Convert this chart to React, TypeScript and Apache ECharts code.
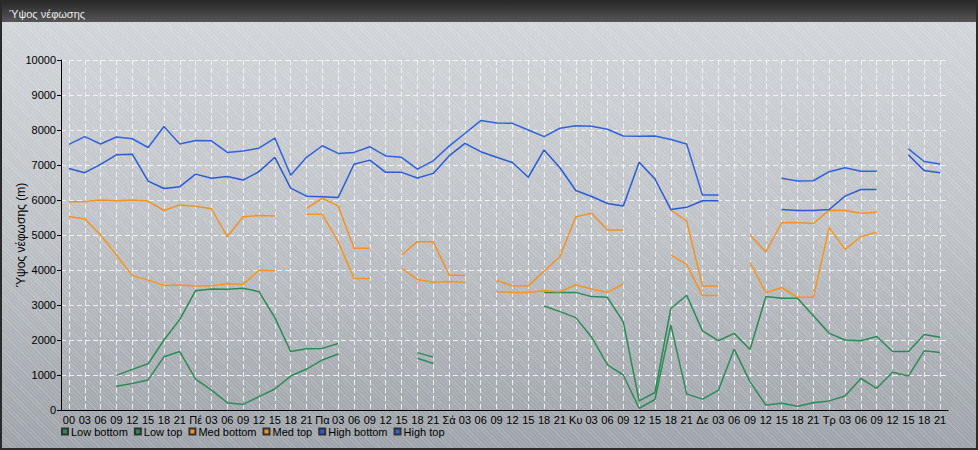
import React, { useEffect, useRef } from "react";
import * as echarts from "echarts";

const categories = [
  "00","03","06","09","12","15","18","21",
  "Πέ","03","06","09","12","15","18","21",
  "Πα","03","06","09","12","15","18","21",
  "Σά","03","06","09","12","15","18","21",
  "Κυ","03","06","09","12","15","18","21",
  "Δε","03","06","09","12","15","18","21",
  "Τρ","03","06","09","12","15","18","21",
];

const yTicks = [0, 1000, 2000, 3000, 4000, 5000, 6000, 7000, 8000, 9000, 10000];

const lowBottom = [
  null, null, null, 680, 760, 860, 1520, 1670, 880, 570, 210, 160, 380, 600,
  970, 1170, 1430, 1600, null, null, null, null, 1480, 1330, null, null, null, null,
  null, null, 2970, 2810, 2640, 2080, 1290, 1000, 50, 300, 2430, 460, 310, 560,
  1740, 810, 140, 190, 110, 210, 260, 400, 900, 620, 1080, 970, 1690, 1640,
];

const lowTop = [
  null, null, null, 990, 1160, 1320, 2000, 2590, 3410, 3460, 3450, 3480, 3380, 2640,
  1670, 1750, 1760, 1900, null, null, null, null, 1640, 1510, null, null, null, null,
  null, null, 3360, 3360, 3360, 3240, 3220, 2520, 260, 500, 2900, 3280, 2260, 1980,
  2190, 1730, 3240, 3190, 3190, 2690, 2190, 2000, 1980, 2100, 1670, 1670, 2160, 2080,
];

const medBottom = [
  5530, 5460, 5000, 4430, 3840, 3710, 3560, 3570, 3540, 3550, 3610, 3590, 3990, 3980,
  null, 5590, 5590, 4810, 3760, 3760, null, 4050, 3730, 3650, 3670, 3640, null, 3380,
  3360, 3360, 3410, 3380, 3570, 3460, 3360, 3600, null, null, 4430, 4160, 3270, 3270,
  null, 4220, 3350, 3500, 3220, 3220, 5210, 4590, 4950, 5080, null, null, null, null,
];

const medTop = [
  5950, 5960, 6000, 5980, 6000, 5970, 5700, 5860, 5820, 5750, 4950, 5520, 5560, 5540,
  null, 5760, 6050, 5830, 4620, 4620, null, 4430, 4810, 4810, 3860, 3840, null, 3700,
  3550, 3540, 3970, 4380, 5520, 5620, 5140, 5140, null, null, 5710, 5400, 3540, 3540,
  null, 5000, 4520, 5350, 5360, 5330, 5710, 5700, 5620, 5650, null, null, null, null,
];

const highBottom = [
  6900, 6780, 7020, 7290, 7310, 6540, 6330, 6380, 6740, 6620, 6670, 6570, 6810, 7220,
  6340, 6110, 6090, 6070, 7020, 7140, 6790, 6790, 6630, 6760, 7260, 7620, 7380, 7220,
  7070, 6650, 7430, 6920, 6270, 6100, 5900, 5830, 7080, 6600, 5730, 5790, 5980, 5980,
  null, null, null, 5730, 5700, 5700, 5730, 6110, 6300, 6300, null, 7290, 6840, 6780,
];

const highTop = [
  7590, 7810, 7600, 7800, 7750, 7500, 8100, 7600, 7700, 7690, 7360, 7400, 7480, 7770,
  6710, 7220, 7550, 7330, 7360, 7520, 7260, 7220, 6880, 7120, 7540, 7900, 8270, 8200,
  8190, 8000, 7810, 8050, 8120, 8110, 8020, 7830, 7820, 7830, 7730, 7600, 6140, 6140,
  null, null, null, 6620, 6540, 6550, 6810, 6920, 6820, 6820, null, 7460, 7100, 7030,
];

const seriesNames = ["Low bottom", "Low top", "Med bottom", "Med top", "High bottom", "High top"];
const seriesData = [lowBottom, lowTop, medBottom, medTop, highBottom, highTop];
const seriesColors = ["#2e8b57", "#2a8a55", "#f7941d", "#f39223", "#2a5bd7", "#2f62dd"];

const FONT = "'Liberation Sans', Arial, sans-serif";
const GRID_LINE = { color: "rgba(245,245,245,0.9)", type: [5, 3], width: 1 };

export default function App() {
  const ref = useRef<HTMLDivElement>(null);

  useEffect(() => {
    if (!ref.current) return;
    const chart = echarts.init(ref.current, undefined, { renderer: "svg" });
    const yMin = yTicks[0];
    const yMax = yTicks[yTicks.length - 1];
    const step = yTicks[1] - yTicks[0];
    const plotLeft = 61;
    const plotRight = 30;
    const half = (978 - plotLeft - plotRight) / categories.length / 2;

    chart.setOption({
      animation: false,
      backgroundColor: "transparent",
      textStyle: { fontFamily: FONT },
      title: {
        text: "Ύψος νέφωσης",
        left: 4,
        top: 3,
        z: 10,
        textStyle: { color: "#ececec", fontSize: 11, fontWeight: "normal", fontFamily: FONT },
      },
      graphic: [
        {
          type: "rect",
          z: 0,
          silent: true,
          shape: { x: 0, y: 0, width: 978, height: 22 },
          style: {
            fill: new echarts.graphic.LinearGradient(0, 0, 0, 1, [
              { offset: 0, color: "#262626" },
              { offset: 1, color: "#565656" },
            ]),
          },
        },
        {
          type: "rect",
          z: 0,
          silent: true,
          shape: { x: 1, y: 1, width: 976, height: 448 },
          style: { fill: "none", stroke: "#2a2a2a", lineWidth: 2 },
        },
      ],
      legend: {
        data: seriesNames,
        left: 56,
        top: 421,
        icon: "rect",
        itemWidth: 6,
        itemHeight: 6,
        itemGap: 6,
        textStyle: { color: "#000", fontSize: 11, fontFamily: FONT, padding: [0, 0, 0, -2] },
      },
      grid: [
        { left: plotLeft, right: plotRight, top: 60, bottom: 40, containLabel: false, outerBoundsMode: "none" },
        { left: plotLeft + half, right: plotRight + half, top: 60, bottom: 40, containLabel: false, outerBoundsMode: "none" },
      ],
      xAxis: [
        {
          type: "category",
          gridIndex: 0,
          data: categories,
          boundaryGap: true,
          axisLine: { lineStyle: { color: "#000", width: 1 } },
          axisTick: { alignWithLabel: true, length: 4, lineStyle: { color: "#000" } },
          axisLabel: { interval: 0, color: "#000", fontSize: 11, margin: 4, fontFamily: FONT, hideOverlap: false },
          splitLine: { show: false },
        },
        {
          type: "category",
          gridIndex: 1,
          data: categories,
          boundaryGap: false,
          axisLine: { show: false },
          axisTick: { show: false },
          axisLabel: { show: false },
          splitLine: { show: true, interval: 0, lineStyle: GRID_LINE },
        },
      ],
      yAxis: [
        {
          type: "value",
          gridIndex: 0,
          min: yMin,
          max: yMax,
          interval: step,
          name: "Ύψος νέφωσης (m)",
          nameLocation: "middle",
          nameGap: 34,
          nameMoveOverlap: false,
          nameTextStyle: { color: "#000", fontSize: 12, fontFamily: FONT },
          axisLine: { show: true, lineStyle: { color: "#000", width: 1 } },
          axisTick: { show: true, length: 4, lineStyle: { color: "#000" } },
          axisLabel: {
            color: "#000",
            fontSize: 11,
            margin: 5,
            fontFamily: FONT,
            formatter: (v: number) => String(v),
          },
          splitLine: { show: true, lineStyle: GRID_LINE },
        },
        {
          type: "value",
          gridIndex: 1,
          min: yMin,
          max: yMax,
          interval: step,
          axisLine: { show: false },
          axisTick: { show: false },
          axisLabel: { show: false },
          splitLine: { show: false },
        },
      ],
      series: [
        {
          name: "__grid",
          type: "line",
          xAxisIndex: 1,
          yAxisIndex: 1,
          data: categories.map(() => null),
          symbol: "none",
          silent: true,
          lineStyle: { width: 0 },
          z: 0,
        },
        ...seriesNames.map((name, k) => ({
          name,
          type: "line",
          xAxisIndex: 0,
          yAxisIndex: 0,
          data: seriesData[k],
          connectNulls: false,
          showSymbol: false,
          symbol: "none",
          color: seriesColors[k],
          lineStyle: { width: 1.5, color: seriesColors[k] },
          itemStyle: { color: seriesColors[k], borderColor: "#333", borderWidth: 0.5 },
          z: 3,
        })),
      ],
    });

    return () => chart.dispose();
  }, []);

  return (
    <div
      style={{
        position: "fixed",
        left: 0,
        top: 0,
        width: 978,
        height: 450,
        background:
          "repeating-linear-gradient(45deg, rgba(255,255,255,0.13) 0px, rgba(255,255,255,0.13) 1px, rgba(0,0,0,0) 1px, rgba(0,0,0,0) 3px), linear-gradient(to bottom, #d3d7db 0%, #bfc3c8 50%, #9ea3a9 100%)",
      }}
    >
      <div ref={ref} style={{ width: 978, height: 450 }} />
    </div>
  );
}
